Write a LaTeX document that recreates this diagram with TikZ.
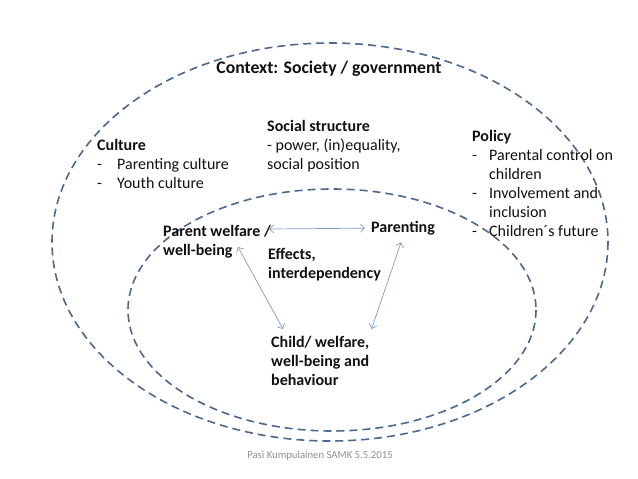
\documentclass[tikz,border=0pt]{standalone}
\usepackage{fontspec}
\setmainfont{Carlito}
\usetikzlibrary{arrows.meta, positioning, calc}
\definecolor{ringblue}{HTML}{4A6890}
\definecolor{linkblue}{HTML}{7E9CC6}
\definecolor{footgray}{HTML}{8E8E8E}
\definecolor{inktext}{HTML}{111111}

\tikzset{
  ring/.style={ringblue, line width=1.6pt, dash pattern=on 8pt off 5pt},
  label/.style={text=inktext, font=\fontsize{16}{19}\selectfont, inner sep=0pt, anchor=north west, align=left},
  boldlabel/.style={label, font=\fontsize{16}{19}\selectfont\bfseries},
  link/.style={linkblue, line width=0.7pt, <->}
}
\newcommand{\itemdash}[1]{\makebox[#1][l]{-}}

\begin{document}
\begin{tikzpicture}[x=1pt, y=-1pt, >={Straight Barb[length=4pt, width=8pt]}]

% Canvas
\useasboundingbox (0,0) rectangle (638,479);
\fill[white] (0,0) rectangle (638,479);

% Society ring and family ring
\draw[ring] (330,242) ellipse [x radius=278, y radius=199];
\draw[ring] (332,310) ellipse [x radius=204, y radius=121];

% Context title
\node[boldlabel, anchor=center, font=\fontsize{17.7}{21}\selectfont\bfseries] (ctx) at (329,69) {Context: Society / government};

% Outer themes
\node[boldlabel] (cul) at (97,139) {Culture\\
  {\mdseries\itemdash{20pt}Parenting culture}\\
  {\mdseries\itemdash{20pt}Youth culture}};
\node[boldlabel] (soc) at (267,120) {Social structure\\
  {\mdseries - power, (in)equality,}\\
  {\mdseries social position}};
\node[boldlabel] (pol) at (472,130) {Policy\\
  {\mdseries\itemdash{17pt}Parental control on}\\
  {\mdseries\hspace*{17pt}children}\\
  {\mdseries\itemdash{17pt}Involvement and}\\
  {\mdseries\hspace*{17pt}inclusion}\\
  {\mdseries\itemdash{17pt}Children\textasciiacute s future}};

% Family triangle
\node[boldlabel] (pw) at (163,225) {Parent welfare /\\well-being};
\node[boldlabel] (par) at (371,221) {Parenting};
\node[boldlabel] (eff) at (268,248) {Effects,\\interdependency};
\node[boldlabel] (ch) at (271,336) {Child/ welfare,\\well-being and\\behaviour};

% Links
\draw[link] ([xshift=-2pt, yshift=-4pt]pw.north east) -- ([xshift=-6pt]par.west);
\draw[link] ([xshift=75pt, yshift=-22pt]pw.north west) -- ([xshift=12pt, yshift=7pt]ch.north west);
\draw[link] ([xshift=-2pt, yshift=-7pt]par.south) -- ([xshift=2pt, yshift=7pt]ch.north east);

% Footer
\node[text=footgray, font=\fontsize{10.7}{12}\selectfont, inner sep=0pt] (foot) at (320,456) {Pasi Kumpulainen SAMK 5.5.2015};

\end{tikzpicture}
\end{document}
